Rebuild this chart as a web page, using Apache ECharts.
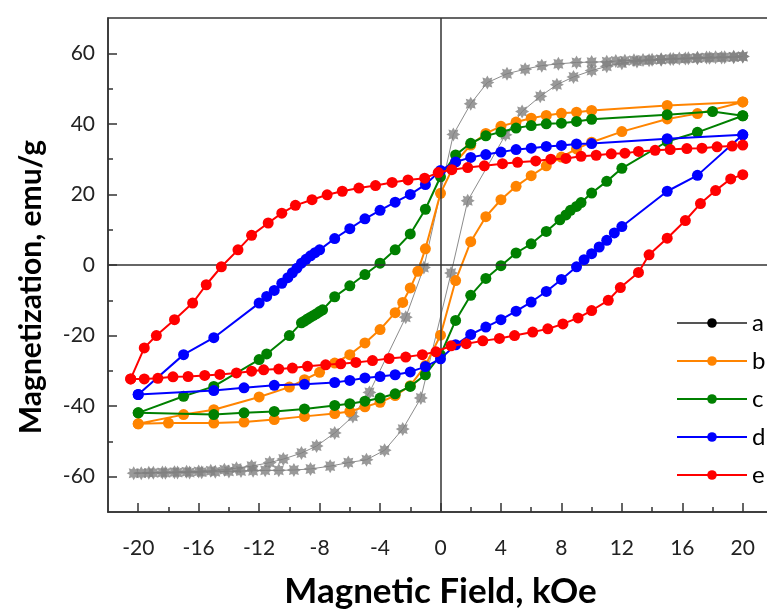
<!DOCTYPE html>
<html><head><meta charset="utf-8">
<script src="https://cdn.jsdelivr.net/npm/echarts@6/dist/echarts.min.js"></script>
<style>html,body{margin:0;padding:0;background:#fff}#c{width:767px;height:610px}</style>
</head><body><div id="c"></div>
<script>
// ---- Data (field in kOe, magnetization in emu/g) ----
const seriesNames = ['a', 'b', 'c', 'd', 'e'];
const xMajorTicks = [-20, -16, -12, -8, -4, 0, 4, 8, 12, 16, 20];
const xMinorTicks = [-18, -14, -10, -6, -2, 2, 6, 10, 14, 18];
const yMajorTicks = [-60, -40, -20, 0, 20, 40, 60];
const yMinorTicks = [-50, -30, -10, 10, 30, 50];

// a (grey)
const aDescH = [20.0, 19.4, 18.8, 18.2, 17.6, 17.0, 16.4, 15.8, 15.2, 14.6, 14.0, 13.4, 12.8, 12.2, 11.6, 11.0, 10.0, 9.0, 7.8, 6.7, 5.6, 4.4, 3.1, 2.0, 0.85, -1.1, -2.3, -4.7, -5.8, -7.0, -8.2, -9.2, -10.4, -11.3, -12.5, -13.5, -14.3, -15.2, -16.0, -16.8, -17.6, -18.4, -19.3, -20.3];
const aDescM = [59.1, 59.0, 58.9, 58.9, 58.8, 58.7, 58.6, 58.5, 58.4, 58.3, 58.2, 58.1, 58.0, 57.9, 57.8, 57.6, 57.5, 57.4, 57.0, 56.5, 55.5, 54.2, 51.7, 45.7, 37.0, -0.7, -14.8, -36.1, -42.9, -47.6, -51.3, -53.3, -55.0, -56.0, -57.0, -57.6, -58.0, -58.3, -58.5, -58.6, -58.7, -58.8, -58.9, -59.0];
const aAscH = [-19.8, -19.0, -18.2, -17.4, -16.6, -15.8, -14.9, -14.0, -13.2, -12.4, -11.6, -10.7, -9.7, -8.6, -7.3, -6.1, -4.9, -3.7, -2.5, -1.3, 0.7, 1.8, 4.3, 5.4, 6.6, 7.7, 8.8, 10.0, 11.0, 12.0, 13.0, 13.8, 14.6, 15.4, 16.2, 17.0, 17.8, 18.6, 19.4, 20.0];
const aAscM = [-59.0, -58.9, -58.9, -58.8, -58.8, -58.7, -58.6, -58.5, -58.4, -58.3, -58.2, -58.2, -58.1, -57.8, -57.0, -56.0, -55.2, -52.5, -46.5, -37.7, -2.3, 18.2, 36.9, 43.5, 47.8, 51.1, 53.3, 55.1, 56.3, 57.2, 57.7, 58.0, 58.2, 58.4, 58.5, 58.6, 58.7, 58.8, 58.9, 59.1];

// b (orange)
const bDescH = [20, 15, 10, 9, 8, 7, 6, 5, 4, 3, 2, 1, 0, -1, -1.5, -2, -2.5, -3, -4, -5, -6, -7, -8, -9, -10, -12, -15, -17, -20];
const bDescM = [46.2, 45.2, 43.8, 43.3, 43.0, 42.4, 41.6, 40.5, 39.3, 37.3, 34.0, 29.2, 20.3, 4.6, -1.8, -6.5, -10.6, -13.5, -18.3, -22.1, -25.4, -27.8, -30.4, -32.5, -34.6, -37.4, -41.0, -42.4, -45.0];
const bAscH = [-20, -18, -15, -13, -11, -9, -7, -6, -5, -4, -3, -2, -1, 0, 1, 2, 3, 4, 5, 6, 7, 8, 9, 10, 12, 15, 17, 20];
const bAscM = [-45.0, -44.8, -44.8, -44.5, -43.8, -42.9, -42.1, -41.5, -40.2, -38.9, -37.0, -34.2, -28.5, -19.9, -4.4, 6.6, 13.7, 18.5, 22.3, 25.3, 28.1, 30.6, 32.9, 34.8, 37.8, 41.4, 42.9, 46.2];

// c (green)
const cDescH = [20, 18, 15, 10, 9, 8, 7, 6, 5, 4, 3, 2, 1, 0, -1, -2, -3, -4, -5, -6, -7, -7.8, -8.0, -8.2, -8.4, -8.6, -8.8, -9.0, -9.2, -10, -11.5, -12, -15, -17, -20];
const cDescM = [42.3, 43.5, 42.6, 41.3, 40.7, 40.2, 40.0, 39.5, 38.8, 37.7, 36.6, 34.5, 31.2, 25.0, 15.8, 8.8, 4.3, 0.5, -2.7, -5.9, -9.0, -12.7, -13.2, -13.8, -14.3, -14.8, -15.3, -15.9, -16.4, -20.0, -25.2, -26.8, -34.4, -37.2, -41.9];
const cAscH = [-20, -15, -13, -11, -9, -7, -6, -5, -4, -3, -2, -1, 0, 1, 2, 3, 4, 5, 6, 7, 7.9, 8.3, 8.6, 9.0, 9.3, 10, 11, 12, 15, 17, 20];
const cAscM = [-41.9, -42.4, -41.9, -41.5, -40.8, -39.8, -39.3, -38.6, -37.7, -36.5, -34.4, -31.1, -25.5, -15.7, -8.6, -3.8, -0.2, 3.4, 6.0, 9.5, 12.8, 14.2, 15.5, 16.6, 17.7, 20.4, 23.7, 27.4, 35.0, 37.6, 42.3];

// d (blue)
const dDescH = [20, 15, 10, 9, 8, 7, 6, 5, 4, 3, 2, 1, 0, -1, -2, -3, -4, -5, -6, -7, -8, -8.3, -8.6, -8.9, -9.2, -9.5, -9.8, -10.1, -10.5, -11, -11.5, -12, -15, -17, -20];
const dDescM = [36.9, 35.8, 34.4, 34.3, 33.9, 33.6, 33.1, 32.7, 32.0, 31.3, 30.5, 29.2, 26.8, 22.8, 20.0, 17.8, 15.5, 13.1, 10.3, 7.5, 4.3, 3.5, 2.6, 1.6, 0.5, -0.9, -2.2, -3.6, -5.2, -7.2, -8.9, -10.8, -20.6, -25.4, -36.7];
const dAscH = [-20, -15, -13, -11, -9, -7, -6, -5, -4, -3, -2, -1, 0, 1, 2, 3, 4, 5, 6, 7, 8, 9, 9.5, 10, 10.5, 11, 11.5, 12, 15, 17, 20];
const dAscM = [-36.7, -35.6, -34.8, -34.1, -33.8, -33.3, -32.7, -32.0, -31.6, -31.1, -30.3, -28.8, -26.6, -22.6, -19.7, -17.6, -15.5, -13.1, -10.5, -7.5, -4.1, -0.5, 1.5, 3.2, 5.1, 7.0, 9.1, 10.9, 20.9, 25.4, 36.9];

// e (red)
const eDescH = [20, 19.3, 18.3, 17.3, 16.3, 15.2, 14.2, 13.1, 12.2, 11.3, 10.3, 9.3, 8.3, 7.3, 6.3, 5.1, 4.1, 2.9, 1.8, 0.75, -0.15, -1.05, -2.15, -3.2, -4.3, -5.4, -6.5, -7.5, -8.5, -9.6, -10.5, -11.4, -12.5, -13.4, -14.5, -15.5, -16.4, -17.6, -18.8, -19.6, -20.5];
const eDescM = [34.0, 33.7, 33.5, 33.1, 33.0, 32.7, 32.5, 32.2, 31.7, 31.5, 31.1, 30.8, 30.2, 30.0, 29.5, 29.1, 28.7, 28.1, 27.6, 27.0, 26.2, 24.6, 24.1, 23.4, 22.5, 21.8, 20.9, 19.9, 18.5, 16.9, 14.7, 11.9, 8.4, 4.3, -0.5, -5.6, -10.8, -15.5, -20.0, -23.5, -32.3];
const eAscH = [-20.5, -19.6, -18.7, -17.7, -16.7, -15.6, -14.6, -13.5, -12.5, -11.7, -10.7, -9.8, -8.8, -7.6, -6.6, -5.6, -4.5, -3.4, -2.3, -1.2, -0.3, 0.7, 1.7, 2.8, 3.9, 4.9, 6.1, 7.1, 8.1, 9.1, 10.0, 11.1, 11.9, 13.1, 13.8, 15.0, 16.2, 17.2, 18.2, 19.2, 20.0];
const eAscM = [-32.3, -32.3, -32.1, -31.7, -31.6, -31.3, -31.0, -30.6, -30.1, -29.7, -29.5, -29.2, -28.7, -28.3, -28.0, -27.6, -27.1, -26.5, -26.1, -25.4, -24.6, -22.9, -22.3, -21.5, -20.8, -20.0, -19.0, -18.1, -16.7, -15.0, -12.9, -10.0, -6.4, -2.1, 2.9, 7.6, 12.6, 17.4, 21.1, 24.4, 25.6];

// ---- Build ----
function loop(dh, dm, ah, am) {
  const out = dh.map((h, i) => [h, dm[i]]);
  return out.concat(ah.map((h, i) => [h, am[i]]));
}
const loops = {
  a: loop(aDescH, aDescM, aAscH, aAscM),
  b: loop(bDescH, bDescM, bAscH, bAscM),
  c: loop(cDescH, cDescM, cAscH, cAscM),
  d: loop(dDescH, dDescM, dAscH, dAscM),
  e: loop(eDescH, eDescM, eAscH, eAscM)
};
const colors = { b: '#ff8400', c: '#008000', d: '#0000ff', e: '#ff0000' };

// 8-spike star marker
const starPts = [];
for (let i = 0; i < 16; i++) {
  const r = i % 2 ? 0.62 : 1;
  const ang = i * Math.PI / 8 - Math.PI / 2;
  starPts.push((r * Math.cos(ang)).toFixed(3) + ' ' + (r * Math.sin(ang)).toFixed(3));
}
const starPath = 'path://M' + starPts.join(' L') + ' Z';

const FONT = 'Lato, "Open Sans", sans-serif';
const axisCol = '#333';

const series = [
  {
    type: 'line', name: 'zero', data: [], silent: true, z: 1,
    markLine: {
      silent: true, symbol: 'none', label: { show: false }, animation: false,
      lineStyle: { color: axisCol, width: 1.5, type: 'solid' },
      emphasis: { disabled: true },
      data: [{ xAxis: 0 }, { yAxis: 0 }]
    }
  },
  {
    type: 'line', name: 'a', data: loops.a, showSymbol: false, symbol: 'circle',
    itemStyle: { color: '#000' }, lineStyle: { color: '#8c8c8c', width: 1 }, z: 2,
    emphasis: { disabled: true }
  },
  {
    type: 'scatter', name: 'a-pts', data: loops.a, symbol: starPath, symbolSize: 14,
    itemStyle: { color: '#7f7f7f' }, z: 2, emphasis: { disabled: true }
  }
];
['b', 'c', 'd', 'e'].forEach((k, i) => {
  series.push({
    type: 'line', name: k, data: loops[k], symbol: 'circle', symbolSize: 11, showSymbol: true,
    itemStyle: { color: colors[k] }, lineStyle: { color: colors[k], width: 2 }, z: 3 + i,
    emphasis: { disabled: true }
  });
});

const chart = echarts.init(document.getElementById('c'), null, { renderer: 'canvas' });
chart.setOption({
  animation: false,
  backgroundColor: '#fff',
  grid: {
    left: 108, top: 18, width: 665, height: 494, show: true, borderColor: axisCol, borderWidth: 1.5,
    backgroundColor: 'transparent', containLabel: false, outerBoundsMode: 'none'
  },
  legend: {
    orient: 'vertical', left: 676, top: 311, padding: 0, itemWidth: 70, itemHeight: 12, itemGap: 14,
    textStyle: { fontSize: 24, fontFamily: FONT, color: '#000', padding: [0, 0, 0, 0] },
    data: [{ name: 'a', lineStyle: { color: '#555' } }, 'b', 'c', 'd', 'e'],
    selectedMode: false
  },
  xAxis: [
    {
      type: 'value', min: -22, max: 22, position: 'bottom',
      axisLine: { show: true, onZero: false, lineStyle: { color: axisCol, width: 1.5 } },
      axisTick: { show: true, inside: true, length: 9, customValues: xMajorTicks, lineStyle: { color: axisCol, width: 1.5 } },
      axisLabel: { customValues: xMajorTicks, margin: 26, fontSize: 21, fontFamily: FONT, color: '#222' },
      splitLine: { show: false },
      name: 'Magnetic Field, kOe', nameLocation: 'middle', nameGap: 62,
      nameTextStyle: { fontSize: 35, fontWeight: 'bold', fontFamily: FONT, color: '#000' }
    },
    {
      type: 'value', min: -22, max: 22, position: 'bottom',
      axisLine: { show: false, onZero: false },
      axisTick: { show: true, inside: true, length: 5, customValues: xMinorTicks, lineStyle: { color: axisCol, width: 1.5 } },
      axisLabel: { show: false }, splitLine: { show: false }
    }
  ],
  yAxis: [
    {
      type: 'value', min: -70, max: 70, position: 'left',
      axisLine: { show: true, onZero: false, lineStyle: { color: axisCol, width: 1.5 } },
      axisTick: { show: true, inside: true, length: 9, customValues: yMajorTicks, lineStyle: { color: axisCol, width: 1.5 } },
      axisLabel: { customValues: yMajorTicks, margin: 13, fontSize: 21, fontFamily: FONT, color: '#222' },
      splitLine: { show: false },
      name: 'Magnetization, emu/g', nameLocation: 'middle', nameGap: 62,
      nameTextStyle: { fontSize: 30, fontWeight: 'bold', fontFamily: FONT, color: '#000', padding: [0, 44, 0, 0] }
    },
    {
      type: 'value', min: -70, max: 70, position: 'left',
      axisLine: { show: false, onZero: false },
      axisTick: { show: true, inside: true, length: 5, customValues: yMinorTicks, lineStyle: { color: axisCol, width: 1.5 } },
      axisLabel: { show: false }, splitLine: { show: false }
    }
  ],
  series: series
});
</script></body></html>
